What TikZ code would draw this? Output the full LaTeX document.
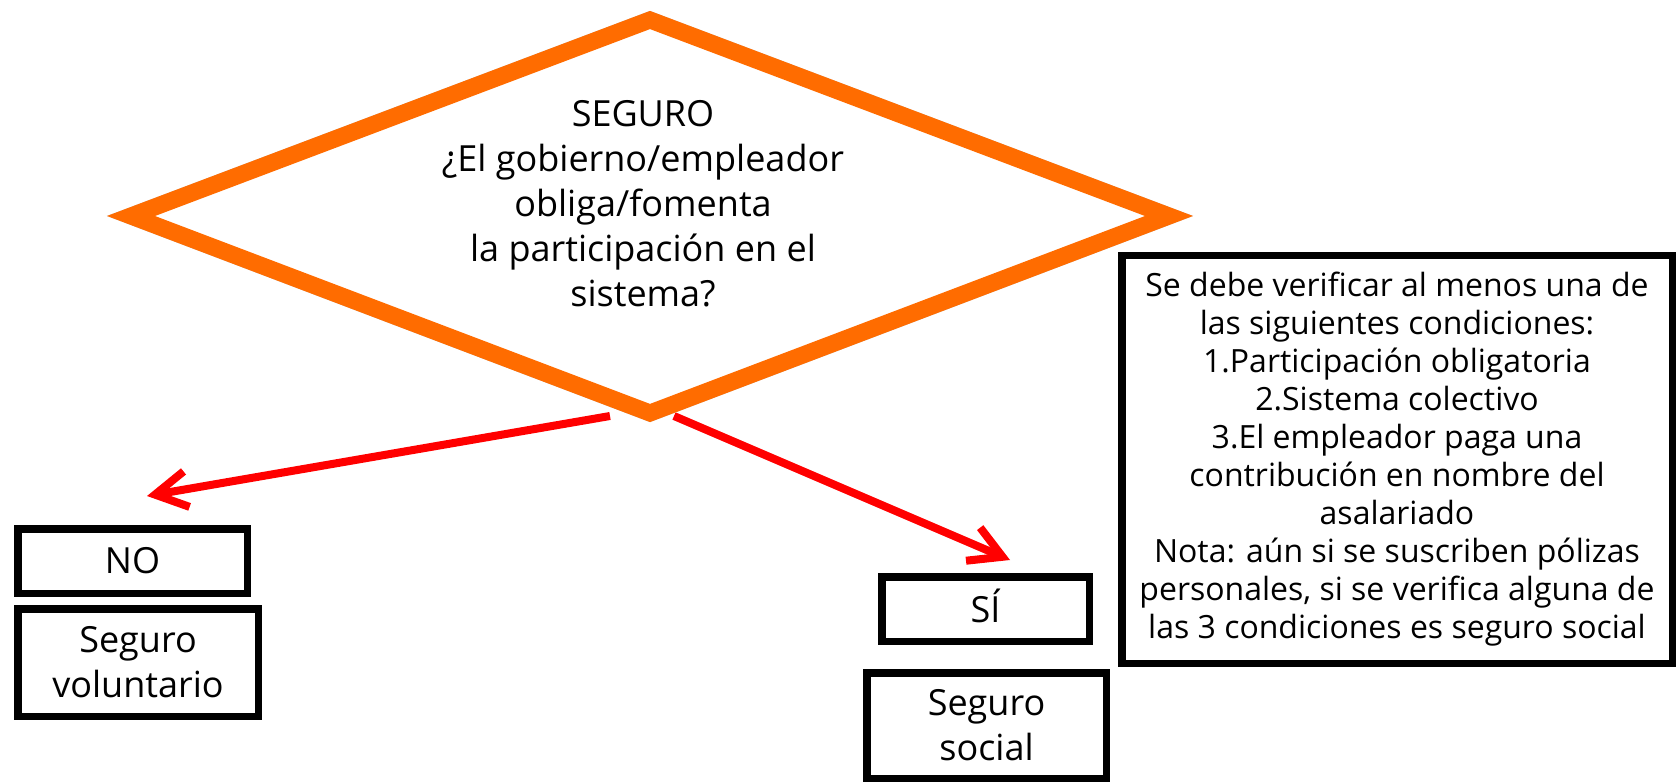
\documentclass[tikz,border=0pt]{standalone}
\usepackage{fontspec}
\setmainfont{Open Sans}
\usetikzlibrary{arrows.meta}
\definecolor{dorange}{RGB}{255,108,0}
\definecolor{dred}{RGB}{255,0,0}
\definecolor{dshadow}{RGB}{200,200,200}
\begin{document}
\begin{tikzpicture}[x=1pt,y=-1pt,
  box/.style={draw=black, line width=7.5pt, fill=white, inner sep=0pt, align=center,
    font=\fontsize{36pt}{45pt}\selectfont},
  notebox/.style={draw=black, line width=7.5pt, fill=white, inner sep=0pt, align=center,
    font=\fontsize{32pt}{38pt}\selectfont},
  conn/.style={draw=dred, line width=8pt, line cap=butt,
    -{Straight Barb[length=32pt,width=36pt]}},
  dline/.style={line width=17pt, line join=miter}
]
\useasboundingbox (0,0) rectangle (1678,783);
\fill[white] (0,0) rectangle (1678,783);

% diamond corner coordinates (centre of stroke)
\coordinate (dleft) at (131,216);
\coordinate (dtop) at (650,20);
\coordinate (dright) at (1169,216);
\coordinate (dbottom) at (650,413);

% arrow ends
\coordinate (ls) at (610,416);
\coordinate (lt) at (147,496);
\coordinate (rs) at (674,416);
\coordinate (rt) at (1010,560);

\draw[conn] (ls) -- (lt);
\draw[conn] (rs) -- (rt);

% diamond shadow and outline
\draw[dline, dshadow, shift={(4,4)}] (dleft) -- (dtop) -- (dright) -- (dbottom) -- cycle;
\fill[white] (dleft) -- (dtop) -- (dright) -- (dbottom) -- cycle;
\draw[dline, dorange] (dleft) -- (dtop) -- (dright) -- (dbottom) -- cycle;

\node[align=center, font=\fontsize{36pt}{45pt}\selectfont] (q) at (643,204)
  {SEGURO\\¿El gobierno/empleador\\obliga/fomenta\\la participación en el\\sistema?};

\node[box, minimum width=229.5pt, minimum height=64.5pt] (no) at (132.5,561) {NO};
\node[box, minimum width=240.5pt, minimum height=107.5pt] (vol) at (138,662.5) {Seguro\\voluntario};
\node[box, minimum width=207.5pt, minimum height=64.5pt, text height=26pt, text depth=0pt] (si) at (985.5,609) {SÍ};
\node[box, minimum width=239.5pt, minimum height=105.5pt] (soc) at (986.5,725.5) {Seguro\\social};

\node[notebox, minimum width=550.5pt, minimum height=407.5pt] (nota) at (1397,459.5)
  {Se debe verificar al menos una de\\las siguientes condiciones:\\1.Participación obligatoria\\2.Sistema colectivo\\3.El empleador paga una\\contribución en nombre del\\asalariado\\Nota: aún si se suscriben pólizas\\personales, si se verifica alguna de\\las 3 condiciones es seguro social};
\end{tikzpicture}
\end{document}
